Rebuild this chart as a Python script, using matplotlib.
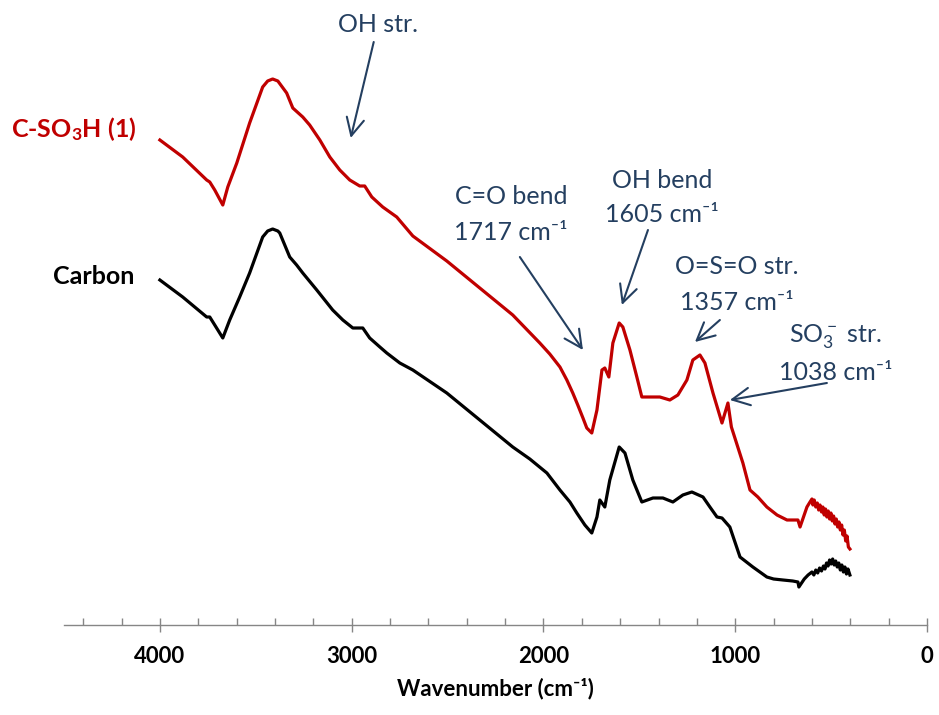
import matplotlib
matplotlib.use("Agg")
import matplotlib.pyplot as plt
from matplotlib.ticker import MultipleLocator

plt.rcParams["font.family"] = ["Lato", "DejaVu Sans"]
plt.rcParams["mathtext.default"] = "regular"

# FTIR spectra, wavenumber (cm-1) vs transmittance (a.u., curves offset)
wn_sulf = [4000, 3881, 3756, 3740, 3714, 3672, 3646, 3599, 3532, 3464, 3438, 3412,
           3385, 3339, 3307, 3255, 3219, 3166, 3114, 3062, 3010, 2958, 2932, 2895,
           2838, 2765, 2681, 2504, 2332, 2160, 2019, 1967, 1914, 1878, 1847, 1821,
           1794, 1774, 1748, 1721, 1695, 1680, 1659, 1638, 1605, 1586, 1549, 1513,
           1487, 1445, 1393, 1341, 1299, 1252, 1221, 1184, 1158, 1116, 1069, 1038,
           1020, 960, 923, 882, 835, 782, 730, 673, 662, 626,
           610, 600, 595, 588, 580, 572, 565, 558, 550, 543, 536, 529, 522, 515,
           508, 501, 494, 487, 480, 473, 466, 459, 452, 445, 438, 431, 424, 417,
           410, 402]
t_sulf = [48.5, 46.8, 44.5, 44.3, 43.5, 42.0, 43.8, 46.2, 50.2, 53.8, 54.4, 54.6,
          54.4, 53.2, 51.7, 50.8, 50.0, 48.5, 46.8, 45.5, 44.5, 43.9, 43.9, 42.8,
          41.8, 40.8, 38.9, 36.4, 33.7, 31.0, 28.2, 27.1, 25.8, 24.5, 23.2, 22.0,
          20.7, 19.7, 19.2, 21.5, 25.5, 25.7, 24.8, 28.2, 30.2, 29.8, 27.5, 24.8,
          22.8, 22.8, 22.8, 22.5, 23.0, 24.5, 26.5, 27.0, 26.2, 23.2, 20.2, 22.2,
          19.8, 16.2, 13.5, 12.8, 11.8, 11.0, 10.5, 10.5, 9.8, 11.8,
          12.3, 12.6, 12.0, 12.5, 11.8, 12.2, 11.5, 12.0, 11.3, 11.8, 11.0, 11.6,
          10.8, 11.4, 10.6, 11.2, 10.4, 10.9, 10.1, 10.6, 9.8, 10.3, 9.5, 10.0,
          9.0, 9.5, 8.4, 8.9, 7.8, 7.6]

wn_carbon = [4000, 3881, 3756, 3740, 3714, 3672, 3636, 3584, 3532, 3464, 3438, 3412,
             3385, 3375, 3323, 3287, 3255, 3182, 3099, 3046, 2994, 2942, 2906, 2853,
             2817, 2749, 2681, 2504, 2332, 2160, 2071, 1982, 1914, 1862, 1826, 1784,
             1748, 1721, 1706, 1680, 1654, 1605, 1575, 1534, 1487, 1429, 1377, 1325,
             1273, 1226, 1168, 1132, 1095, 1069, 1028, 975, 908, 835, 800, 751, 700,
             673, 668, 640, 620, 600, 590, 580, 570, 560, 550, 540, 532, 524, 516,
             508, 500, 492, 484, 476, 468, 460, 452, 444, 436, 428, 420, 412, 402]
t_carbon = [34.5, 32.8, 30.8, 30.8, 30.0, 28.7, 30.5, 32.8, 35.2, 38.8, 39.4, 39.6,
            39.4, 39.2, 36.8, 36.0, 35.2, 33.5, 31.5, 30.5, 29.7, 29.7, 28.7, 27.8,
            27.2, 26.2, 25.5, 23.2, 20.5, 17.8, 16.6, 15.2, 13.5, 12.3, 11.2, 10.0,
            9.2, 10.8, 12.5, 11.8, 14.5, 17.8, 17.2, 14.5, 12.3, 12.7, 12.7, 12.3,
            13.0, 13.3, 12.8, 11.8, 10.8, 10.7, 9.8, 6.8, 5.8, 4.8, 4.6, 4.5, 4.4,
            4.3, 3.8, 4.6, 5.0, 5.3, 5.0, 5.5, 5.2, 5.7, 5.4, 5.9, 5.6, 6.2, 5.9,
            6.5, 6.1, 6.6, 6.0, 6.4, 5.8, 6.2, 5.5, 6.0, 5.3, 5.8, 5.1, 5.6, 5.0]

navy = "#243F60"
red = "#C00000"

fig = plt.figure(figsize=(9.39, 7.15), dpi=100)
ax = fig.add_axes([64 / 939, 90 / 715, 863 / 939, 625 / 715])

ax.plot(wn_sulf, t_sulf, color=red, lw=2.3, solid_joinstyle="round")
ax.plot(wn_carbon, t_carbon, color="black", lw=2.3, solid_joinstyle="round")

ax.set_xlim(4500, 0)
ax.set_ylim(0, 62.5)

for side in ["left", "right", "top"]:
    ax.spines[side].set_visible(False)
ax.spines["bottom"].set_color("#868686")
ax.spines["bottom"].set_linewidth(1.0)
ax.set_yticks([])

ax.xaxis.set_major_locator(MultipleLocator(1000))
ax.xaxis.set_minor_locator(MultipleLocator(200))
ax.tick_params(axis="x", which="major", direction="inout", length=10, width=1.0,
               color="#868686", pad=10, labelsize=16)
ax.tick_params(axis="x", which="minor", direction="in", length=5, width=1.0,
               color="#868686")
for lab in ax.get_xticklabels():
    lab.set_fontweight("bold")
ax.set_xlabel("Wavenumber (cm⁻¹)", fontsize=16, fontweight="bold", labelpad=8)

# sample names
ax.text(4121, 49.6, "C-SO$_3$H (1)", color=red, fontsize=18, fontweight="bold",
        ha="right", va="center")
ax.text(4131, 34.8, "Carbon", color="black", fontsize=18, fontweight="bold",
        ha="right", va="center")

# band assignments
labels = [
    (2864, 60.0, ["OH str."]),
    (2170, 42.8, ["C=O bend", "1717 cm⁻¹"]),
    (1382, 44.5, ["OH bend", "1605 cm⁻¹"]),
    (991, 35.8, ["O=S=O str.", "1357 cm⁻¹"]),
    (475, 28.8, ["SO$_3^-$ str.", "1038 cm⁻¹"]),
]
for x, y, lines in labels:
    for i, line in enumerate(lines):
        ax.text(x, y - 3.5 * i, line, color=navy, fontsize=18, ha="center", va="center")

arrows = [
    ((3005, 48.7), (2885, 58.3)),
    ((1794, 27.5), (2123, 36.8)),
    ((1591, 32.0), (1455, 39.5)),
    ((1210, 28.3), (1080, 30.5)),
    ((1028, 22.5), (522, 24.2)),
]
for tip, tail in arrows:
    ax.annotate("", xy=tip, xytext=tail,
                arrowprops=dict(arrowstyle="->,head_length=0.7,head_width=0.35",
                                color=navy, lw=1.5, mutation_scale=18,
                                shrinkA=0, shrinkB=0))

fig.savefig("out.png", dpi=100)
